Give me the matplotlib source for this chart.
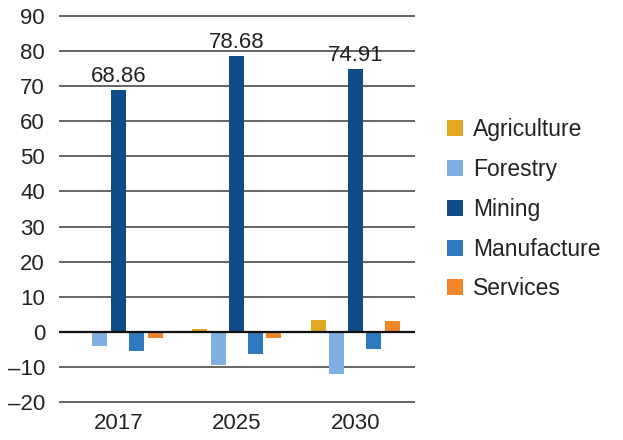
import numpy as np
import matplotlib.pyplot as plt

plt.rcParams['font.family'] = ['Liberation Sans', 'DejaVu Sans']

years = ['2017', '2025', '2030']
sectors = ['Agriculture', 'Forestry', 'Mining', 'Manufacture', 'Services']
agriculture = [0.2, 0.6, 3.4]
forestry = [-4.0, -9.4, -12.0]
mining = [68.86, 78.68, 74.91]
manufacture = [-5.4, -6.3, -4.9]
services = [-1.7, -1.7, 2.9]
colors = ['#E3A823', '#7DB0E0', '#0F4C8A', '#2F7ABF', '#F28527']

series = [agriculture, forestry, mining, manufacture, services]

fig = plt.figure(figsize=(6.23, 4.4), dpi=100)
ax = fig.add_axes([0.0947, 0.084, 0.571, 0.882])

x = np.arange(len(years))
pitch = 0.156
width = 0.127
for i, (name, vals, c) in enumerate(zip(sectors, series, colors)):
    ax.bar(x + (i - 2) * pitch, vals, width, color=c, label=name, zorder=3)

# labels above the mining bars
for xi, v in zip(x, mining):
    ax.text(xi, v + 1.0, f'{v:.2f}', ha='center', va='bottom', fontsize=16, color='#222222')

ax.set_xlim(-0.5, 2.5)
ax.set_ylim(-20.4, 90.4)
ax.set_yticks(range(-20, 91, 10))
ax.set_yticklabels([str(t).replace('-', '\u2013') for t in range(-20, 91, 10)])
ax.set_xticks(x)
ax.set_xticklabels(years)
ax.tick_params(length=0, labelsize=16, colors='#222222')
ax.tick_params(axis='y', pad=10)
ax.tick_params(axis='x', pad=7)
ax.grid(axis='y', color='#3a3a3a', linewidth=1.1, zorder=0)
ax.axhline(0, color='#111111', linewidth=1.6, zorder=4)
for s in ax.spines.values():
    s.set_visible(False)

fig.legend(loc='center left', bbox_to_anchor=(0.684, 0.524), frameon=False,
           fontsize=16.5, handlelength=0.7, handleheight=0.7,
           handletextpad=0.45, labelspacing=0.73, labelcolor='#222222')

fig.savefig('out.png', dpi=100)
